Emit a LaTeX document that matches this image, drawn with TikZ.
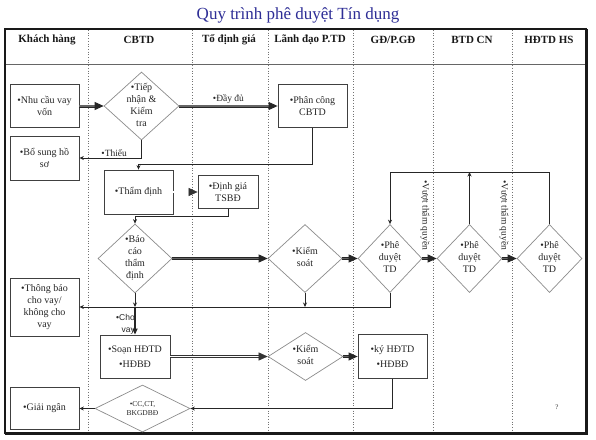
\documentclass[tikz,border=0pt]{standalone}
\usepackage{fontspec}
\setmainfont{Liberation Serif}
\setsansfont{Liberation Sans}
\usetikzlibrary{shapes.geometric,arrows.meta,calc}
\definecolor{titleblue}{RGB}{46,46,150}
\newcommand\dtxt[1]{\makebox[0pt]{\smash{\raisebox{-2.5pt}{$\vcenter{\hbox{\begin{tabular}{@{}c@{}}#1\end{tabular}}}$}}}}
\begin{document}
\begin{tikzpicture}[x=1pt,y=-1pt,
 box/.style={draw=black!75, line width=0.8pt, rectangle, fill=white, align=center,
   font=\fontsize{10}{12}\selectfont, text=black!85, inner sep=1pt},
 dia/.style={draw=black!45, line width=0.7pt, diamond, fill=white, inner sep=0pt,
   font=\fontsize{10}{12}\selectfont, text=black!85},
 conn/.style={draw=black!85, line width=0.9pt, -{Stealth[length=4.5pt,width=4pt]}},
 fat/.style={draw=black!85, line width=0.9pt, double=black!60, double distance=1.2pt,
   -{Triangle[length=9pt,width=8pt]}},
 dbl/.style={draw=black!80, line width=0.6pt, double=white, double distance=1.3pt,
   -{Triangle[length=9pt,width=8pt]}},
 heavy/.style={draw=black!85, line width=2.4pt, -{Triangle[length=6pt,width=5pt]}},
 lbl/.style={font=\fontsize{9.5}{11}\selectfont, text=black!85, inner sep=1pt},
 hdr/.style={font=\bfseries\fontsize{11}{13}\selectfont, text=black!90},
 lane/.style={draw=black!55, dotted, line width=0.7pt}
]
\useasboundingbox (0,0) rectangle (596,439);
\fill[white] (0,0) rectangle (596,439);

% title
\node[font=\fontsize{17}{20}\selectfont, text=titleblue] (title) at (298,15) {Quy trình phê duyệt Tín dụng};

% lanes
\foreach \x in {88,192,268,353,433,512} \draw[lane] (\x,30) -- (\x,432);
\draw[black!60, line width=0.6pt] (5,64) -- (586,64);
\draw[black!90, line width=1.3pt] (5,29) rectangle (586,433);
\draw[black!90, line width=2.2pt] (587,29) -- (587,434) -- (5,434);

% headers
\node[hdr] (h1) at (47,40) {Khách hàng};
\node[hdr] (h2) at (139,40) {CBTD};
\node[hdr] (h3) at (229,40) {Tổ định giá};
\node[hdr] (h4) at (310,40) {Lãnh đạo P.TD};
\node[hdr] (h5) at (393,40) {GĐ/P.GĐ};
\node[hdr] (h6) at (472,40) {BTD CN};
\node[hdr] (h7) at (549,40) {HĐTD HS};

% nodes
\node[box, minimum width=69pt, minimum height=43pt] (nc) at (44.5,106) {•Nhu cầu vay\\vốn};
\node[dia, minimum width=75pt, minimum height=68pt] (tn) at (141.5,106) {\dtxt{•Tiếp\\nhận \&\\Kiểm\\tra}};
\node[box, minimum width=69pt, minimum height=43pt] (pc) at (312.5,106) {•Phân công\\CBTD};
\node[box, minimum width=69pt, minimum height=44pt] (bs) at (44.5,158) {•Bổ sung hồ\\sơ};
\node[box, minimum width=69pt, minimum height=44pt] (td) at (138.5,192) {•Thẩm định};
\node[box, minimum width=60pt, minimum height=33pt] (dg) at (228,192) {•Định giá\\TSBĐ};
\node[dia, minimum width=74pt, minimum height=69pt] (bc) at (135,258.5) {\dtxt{•Báo\\cáo\\thẩm\\định}};
\node[dia, minimum width=74pt, minimum height=68pt] (ks1) at (305,258.5) {\dtxt{•Kiểm\\soát}};
\node[dia, minimum width=64pt, minimum height=68pt] (pd1) at (390,258.5) {\dtxt{•Phê\\duyệt\\TD}};
\node[dia, minimum width=65pt, minimum height=68pt] (pd2) at (469.5,258.5) {\dtxt{•Phê\\duyệt\\TD}};
\node[dia, minimum width=65pt, minimum height=68pt] (pd3) at (549.5,258.5) {\dtxt{•Phê\\duyệt\\TD}};
\node[box, minimum width=69pt, minimum height=58pt] (tb) at (44.5,307) {•Thông báo\\cho vay/\\không cho\\vay};
\node[box, minimum width=70pt, minimum height=43pt] (so) at (135,356.5) {•Soạn HĐTD\\[3pt]•HĐBĐ};
\node[dia, minimum width=75pt, minimum height=48pt] (ks2) at (305.5,356.5) {\dtxt{•Kiểm\\soát}};
\node[box, minimum width=69pt, minimum height=44pt] (ky) at (392.5,356.5) {•ký HĐTD\\[3pt]•HĐBĐ};
\node[dia, minimum width=95pt, minimum height=47pt, font=\fontsize{7.5}{9.5}\selectfont] (cc) at (142.5,408.5) {\dtxt{•CC,CT,\\BKGDBĐ}};
\node[box, minimum width=69pt, minimum height=42pt] (gn) at (44.5,408.5) {•Giải ngân};

% helper coordinates
\coordinate (y1) at (0,164);
\coordinate (y2) at (0,216);
\coordinate (yt) at (0,172);

% connectors
\draw[fat] (nc.east) -- (tn.west);
\draw[fat] (tn.east) -- node[lbl, above=1pt] (ldd) {•Đầy đủ} (pc.west);
\draw[conn] (tn.south) |- node[lbl, pos=0.72, above=0pt] (lth) {•Thiếu} (bs.east);
\draw[conn] (pc.south) |- (td.north |- y1) -- (td.north);
\draw[dbl] (td.east) -- (dg.west);
\draw[conn] (dg.south) |- (bc.north |- y2) -- (bc.north);
\draw[fat] (bc.east) -- (ks1.west);
\draw[fat] (ks1.east) -- (pd1.west);
\draw[fat] (pd1.east) -- (pd2.west);
\draw[fat] (pd2.east) -- (pd3.west);
\node[lbl, rotate=-90] (v1) at (425,215) {•Vượt thẩm quyền};
\node[lbl, rotate=-90] (v2) at (504,215) {•Vượt thẩm quyền};
\draw[conn] (pd3.north) |- (pd1.north |- yt) -- (pd1.north);
\draw[conn] (pd2.north) -- (pd2.north |- yt);
\draw[conn] (pd1.south) |- (tb.east);
\draw[conn] (ks1.south) -- (ks1.south |- tb.east);
\draw[conn] (bc.south) -- (bc.south |- tb.east);
\draw[heavy] (bc.south |- tb.east) -- (so.north);
\node[font=\sffamily\fontsize{8.5}{12}\selectfont, text=black!85, align=right, anchor=east, inner sep=0pt] (lcv) at (135,324) {•Cho\\vay};
\draw[dbl] (so.east) -- (ks2.west);
\draw[fat] (ks2.east) -- (ky.west);
\draw[conn] (ky.south) |- (cc.east);
\draw[conn] (cc.west) -- (gn.east);

\node[font=\fontsize{7}{8}\selectfont, text=black!80] (pg) at (557,407) {?};
\end{tikzpicture}
\end{document}
